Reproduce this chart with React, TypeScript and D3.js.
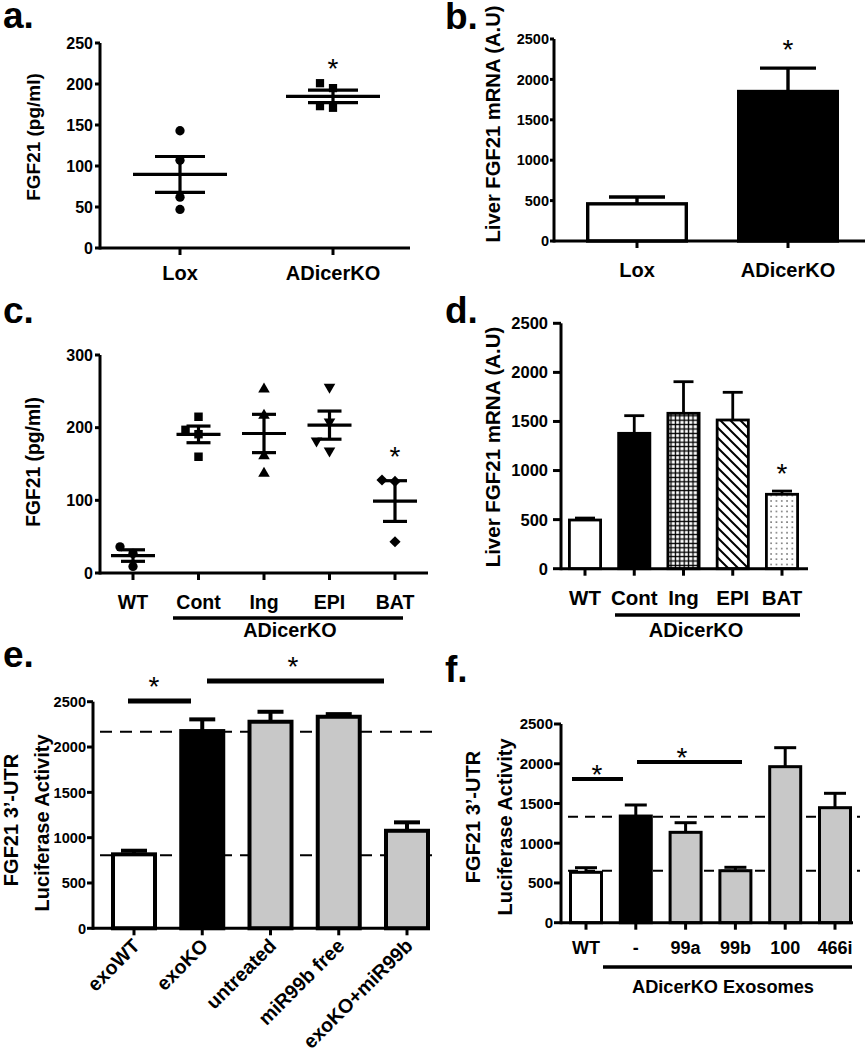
import React from "react";
import * as d3 from "d3";

const FONT = "'Liberation Sans', Arial, Helvetica, sans-serif";

// ---------- Panel a: serum FGF21 (scatter) ----------
const aCategories = ["Lox", "ADicerKO"];
const aLox = [143, 107, 62, 47];
const aADicerKO = [201, 195, 171, 173];
const aTicks = [0, 50, 100, 150, 200, 250];

// ---------- Panel b: liver FGF21 mRNA (bars) ----------
const bCategories = ["Lox", "ADicerKO"];
const bMeans = [460, 1850];
const bSEM = [85, 290];
const bTicks = [0, 500, 1000, 1500, 2000, 2500];

// ---------- Panel c: serum FGF21 (scatter) ----------
const cCategories = ["WT", "Cont", "Ing", "EPI", "BAT"];
const cWT = [36, 27, 9];
const cCont = [215, 197, 191, 160];
const cIng = [253, 217, 161, 137];
const cEPI = [256, 208, 168, 182];
const cBAT = [128, 126, 43];
const cTicks = [0, 100, 200, 300];

// ---------- Panel d: liver FGF21 mRNA (bars) ----------
const dCategories = ["WT", "Cont", "Ing", "EPI", "BAT"];
const dMeans = [496, 1379, 1583, 1515, 758];
const dSEM = [20, 180, 322, 282, 33];
const dTicks = [0, 500, 1000, 1500, 2000, 2500];

// ---------- Panel e: luciferase ----------
const eCategories = ["exoWT", "exoKO", "untreated", "miR99b free", "exoKO+miR99b"];
const eMeans = [816, 2176, 2279, 2334, 1076];
const eSEM = [40, 129, 110, 29, 93];
const eReference = [2168, 807];
const eTicks = [0, 500, 1000, 1500, 2000, 2500];

// ---------- Panel f: luciferase ----------
const fCategories = ["WT", "-", "99a", "99b", "100", "466i"];
const fMeans = [634, 1342, 1137, 654, 1963, 1447];
const fSEM = [58, 139, 121, 43, 239, 181];
const fReference = [1334, 654];
const fTicks = [0, 500, 1000, 1500, 2000, 2500];

type Scale = d3.ScaleLinear<number, number>;

function dodge(values: number[], y: Scale, step: number, minDist: number) {
  const order = values.map((_, i) => i).sort((a, b) => values[a] - values[b]);
  const placed: { dx: number; py: number }[] = [];
  const out: number[] = new Array(values.length).fill(0);
  for (const i of order) {
    const py = y(values[i]);
    const cands = [0, -step, step, -2 * step, 2 * step];
    for (const dx of cands) {
      if (placed.every((p) => Math.hypot(p.dx - dx, p.py - py) >= minDist)) {
        out[i] = dx;
        placed.push({ dx, py });
        break;
      }
    }
  }
  return out;
}

function YAxis({ x, scale, ticks, tickLen, fontSize, gap }: any) {
  const [r0, r1] = scale.range();
  return (
    <g>
      <line x1={x} x2={x} y1={r0 + 1.5} y2={r1} stroke="#000" strokeWidth={3} />
      {ticks.map((t: number) => (
        <g key={t}>
          <line x1={x - tickLen} x2={x} y1={scale(t)} y2={scale(t)} stroke="#000" strokeWidth={3} />
          <text
            x={x - tickLen - gap}
            y={scale(t)}
            dy="0.36em"
            textAnchor="end"
            fontSize={fontSize}
            fontWeight="bold"
          >
            {t}
          </text>
        </g>
      ))}
    </g>
  );
}

function XAxis({ x0, x1, y0, positions, tickLen }: any) {
  return (
    <g>
      <line x1={x0} x2={x1} y1={y0} y2={y0} stroke="#000" strokeWidth={3} />
      {positions.map((p: number, i: number) => (
        <line key={i} x1={p} x2={p} y1={y0} y2={y0 + tickLen} stroke="#000" strokeWidth={3} />
      ))}
    </g>
  );
}

function YLabel({ x, y, text, fontSize }: any) {
  return (
    <text
      transform={`translate(${x},${y}) rotate(-90)`}
      textAnchor="middle"
      dy="0.36em"
      fontSize={fontSize}
      fontWeight="bold"
    >
      {text}
    </text>
  );
}

function Star({ x, y, size = 28 }: any) {
  return (
    <text x={x} y={y + size * 0.58} textAnchor="middle" fontSize={size} fontWeight="normal">
      *
    </text>
  );
}

function PanelLetter({ x, y, text }: any) {
  return (
    <text x={x} y={y} fontSize={37} fontWeight="bold">
      {text}
    </text>
  );
}

function ScatterGroup({ values, cx, y, shape, rot, size, meanHalf, capHalf }: any) {
  const m = d3.mean(values) as number;
  const sem = (d3.deviation(values) as number) / Math.sqrt(values.length);
  const offs = dodge(values, y, 13, 11);
  const sym = d3.symbol().type(shape).size(size)() as string;
  return (
    <g>
      {values.map((v: number, i: number) => (
        <path
          key={i}
          d={sym}
          transform={`translate(${cx + offs[i]},${y(v)}) rotate(${rot})`}
          fill="#000"
        />
      ))}
      <line x1={cx - meanHalf} x2={cx + meanHalf} y1={y(m)} y2={y(m)} stroke="#000" strokeWidth={3.2} />
      <line x1={cx} x2={cx} y1={y(m + sem)} y2={y(m - sem)} stroke="#000" strokeWidth={3.2} />
      <line x1={cx - capHalf} x2={cx + capHalf} y1={y(m + sem)} y2={y(m + sem)} stroke="#000" strokeWidth={3.2} />
      <line x1={cx - capHalf} x2={cx + capHalf} y1={y(m - sem)} y2={y(m - sem)} stroke="#000" strokeWidth={3.2} />
    </g>
  );
}

function Bars({ cats, means, sem, xs, y, width, fills, sw, capHalf }: any) {
  return (
    <g>
      {cats.map((c: string, i: number) => {
        const cx = xs(c) as number;
        const top = y(means[i]);
        const bottom = y(0);
        const err = y(means[i] + sem[i]);
        return (
          <g key={c}>
            <line x1={cx} x2={cx} y1={top} y2={err} stroke="#000" strokeWidth={sw} />
            <line x1={cx - capHalf} x2={cx + capHalf} y1={err} y2={err} stroke="#000" strokeWidth={sw} />
            <rect
              x={cx - width / 2 + sw / 2}
              y={top}
              width={width - sw}
              height={bottom - top}
              fill={fills[i]}
              stroke="#000"
              strokeWidth={sw}
            />
          </g>
        );
      })}
    </g>
  );
}

export default function App() {
  // ---- panel a
  const ay = d3.scaleLinear().domain([0, 250]).range([248, 43]);
  const ax = d3.scalePoint<string>().domain(aCategories).range([180, 333]);
  // ---- panel b
  const by = d3.scaleLinear().domain([0, 2500]).range([241, 39]);
  const bx = d3.scalePoint<string>().domain(bCategories).range([637, 788]);
  // ---- panel c
  const cy = d3.scaleLinear().domain([0, 300]).range([573, 355]);
  const cx = d3.scalePoint<string>().domain(cCategories).range([133, 395]);
  // ---- panel d
  const dy = d3.scaleLinear().domain([0, 2500]).range([568.7, 323.3]);
  const dx = d3.scalePoint<string>().domain(dCategories).range([585, 782]);
  // ---- panel e
  const ey = d3.scaleLinear().domain([0, 2500]).range([928.3, 701.7]);
  const ex = d3.scalePoint<string>().domain(eCategories).range([134, 407]);
  // ---- panel f
  const fy = d3.scaleLinear().domain([0, 2500]).range([922.7, 724]);
  const fx = d3.scalePoint<string>().domain(fCategories).range([586, 835]);

  const cGroups = [
    { v: cWT, shape: d3.symbolCircle, rot: 0, size: 68 },
    { v: cCont, shape: d3.symbolSquare, rot: 0, size: 72 },
    { v: cIng, shape: d3.symbolTriangle, rot: 0, size: 58 },
    { v: cEPI, shape: d3.symbolTriangle, rot: 180, size: 58 },
    { v: cBAT, shape: d3.symbolSquare, rot: 45, size: 62 },
  ];

  return (
    <svg
      width={865}
      height={1050}
      style={{ position: "absolute", left: 0, top: 0, background: "#fff" }}
      fontFamily={FONT}
    >
      <defs>
        <pattern id="gridPat" width={4.4} height={4.4} patternUnits="userSpaceOnUse">
          <rect width={4.4} height={4.4} fill="#fff" />
          <path d="M0 2.2H4.4M2.2 0V4.4" stroke="#000" strokeWidth={1.3} />
        </pattern>
        <pattern id="diagPat" width={10} height={10} patternUnits="userSpaceOnUse">
          <rect width={10} height={10} fill="#fff" />
          <path d="M-2.5 7.5L2.5 12.5M0 0L10 10M7.5 -2.5L12.5 2.5" stroke="#000" strokeWidth={2} />
        </pattern>
        <pattern id="dotPat" width={5.3} height={5.3} patternUnits="userSpaceOnUse">
          <rect width={5.3} height={5.3} fill="#fff" />
          <circle cx={2.65} cy={2.65} r={0.75} fill="#222" />
        </pattern>
      </defs>
      <rect width={865} height={1050} fill="#fff" />

      {/* ================= Panel a ================= */}
      <PanelLetter x={3} y={28} text="a." />
      <YLabel x={33} y={137} text="FGF21 (pg/ml)" fontSize={19} />
      <XAxis x0={100} x1={410} y0={248} positions={aCategories.map((c) => ax(c))} tickLen={7} />
      <YAxis x={100} scale={ay} ticks={aTicks} tickLen={5} fontSize={16} gap={2} />
      {aCategories.map((c) => (
        <text key={c} x={ax(c)} y={273} dy="0.36em" textAnchor="middle" fontSize={20} fontWeight="bold">
          {c}
        </text>
      ))}
      <ScatterGroup values={aLox} cx={ax("Lox")} y={ay} shape={d3.symbolCircle} rot={0} size={68} meanHalf={47} capHalf={25} />
      <ScatterGroup values={aADicerKO} cx={ax("ADicerKO")} y={ay} shape={d3.symbolSquare} rot={0} size={68} meanHalf={47} capHalf={25} />
      <Star x={ax("ADicerKO")} y={62} />

      {/* ================= Panel b ================= */}
      <PanelLetter x={445} y={29} text="b." />
      <YLabel x={493} y={124} text="Liver FGF21 mRNA (A.U)" fontSize={20.2} />
      <Bars cats={bCategories} means={bMeans} sem={bSEM} xs={bx} y={by} width={102} fills={["#fff", "#000"]} sw={3.4} capHalf={28} />
      <XAxis x0={554} x1={865} y0={241} positions={bCategories.map((c) => bx(c))} tickLen={7} />
      <YAxis x={554} scale={by} ticks={bTicks} tickLen={4} fontSize={14.5} gap={1} />
      {bCategories.map((c) => (
        <text key={c} x={bx(c)} y={270} dy="0.36em" textAnchor="middle" fontSize={20} fontWeight="bold">
          {c}
        </text>
      ))}
      <Star x={bx("ADicerKO")} y={43} />

      {/* ================= Panel c ================= */}
      <PanelLetter x={3} y={323} text="c." />
      <YLabel x={33} y={462} text="FGF21 (pg/ml)" fontSize={19.3} />
      <XAxis x0={100} x1={428} y0={573} positions={cCategories.map((c) => cx(c))} tickLen={7} />
      <YAxis x={100} scale={cy} ticks={cTicks} tickLen={5} fontSize={16} gap={2} />
      {cCategories.map((c) => (
        <text key={c} x={cx(c)} y={602} dy="0.36em" textAnchor="middle" fontSize={19.5} fontWeight="bold">
          {c}
        </text>
      ))}
      {cGroups.map((g, i) => (
        <ScatterGroup
          key={i}
          values={g.v}
          cx={cx(cCategories[i])}
          y={cy}
          shape={g.shape}
          rot={g.rot}
          size={g.size}
          meanHalf={22}
          capHalf={12}
        />
      ))}
      <Star x={cx("BAT")} y={450} />
      <line x1={173} x2={403} y1={618} y2={618} stroke="#000" strokeWidth={3.4} />
      <text x={290} y={630} dy="0.36em" textAnchor="middle" fontSize={19.8} fontWeight="bold">
        ADicerKO
      </text>

      {/* ================= Panel d ================= */}
      <PanelLetter x={445} y={323} text="d." />
      <YLabel x={493} y={447} text="Liver FGF21 mRNA (A.U)" fontSize={20.5} />
      <Bars
        cats={dCategories}
        means={dMeans}
        sem={dSEM}
        xs={dx}
        y={dy}
        width={34}
        fills={["#fff", "#000", "url(#gridPat)", "url(#diagPat)", "url(#dotPat)"]}
        sw={2.8}
        capHalf={10}
      />
      <XAxis x0={561} x1={808} y0={568.7} positions={dCategories.map((c) => dx(c))} tickLen={7} />
      <YAxis x={561} scale={dy} ticks={dTicks} tickLen={8} fontSize={16.5} gap={5} />
      {dCategories.map((c) => (
        <text key={c} x={dx(c)} y={598} dy="0.36em" textAnchor="middle" fontSize={20.5} fontWeight="bold">
          {c}
        </text>
      ))}
      <Star x={dx("BAT")} y={467} />
      <line x1={615} x2={800} y1={615} y2={615} stroke="#000" strokeWidth={3.4} />
      <text x={696} y={630} dy="0.36em" textAnchor="middle" fontSize={20} fontWeight="bold">
        ADicerKO
      </text>

      {/* ================= Panel e ================= */}
      <PanelLetter x={3} y={667} text="e." />
      <text transform="translate(11,820) rotate(-90)" textAnchor="middle" dy="0.36em" fontSize={20} fontWeight="bold">
        FGF21 3’-UTR
      </text>
      <text transform="translate(42,823) rotate(-90)" textAnchor="middle" dy="0.36em" fontSize={20} fontWeight="bold">
        Luciferase Activity
      </text>
      {eReference.map((r, i) => (
        <line key={i} x1={100} x2={432} y1={ey(r)} y2={ey(r)} stroke="#000" strokeWidth={2} strokeDasharray="12 8" />
      ))}
      <Bars
        cats={eCategories}
        means={eMeans}
        sem={eSEM}
        xs={ex}
        y={ey}
        width={46}
        fills={["#fff", "#000", "#c8c8c8", "#c8c8c8", "#c8c8c8"]}
        sw={4}
        capHalf={13}
      />
      <XAxis x0={93} x1={430} y0={928.3} positions={eCategories.map((c) => ex(c))} tickLen={7} />
      <YAxis x={93} scale={ey} ticks={eTicks} tickLen={6} fontSize={14.6} gap={1} />
      {eCategories.map((c) => (
        <text
          key={c}
          transform={`translate(${(ex(c) as number) + 7},947) rotate(-45)`}
          textAnchor="end"
          fontSize={19.6}
          fontWeight="bold"
        >
          {c}
        </text>
      ))}
      <line x1={128} x2={191} y1={701} y2={701} stroke="#000" strokeWidth={5} />
      <Star x={154} y={680} />
      <line x1={207} x2={384} y1={681} y2={681} stroke="#000" strokeWidth={5} />
      <Star x={293} y={660} />

      {/* ================= Panel f ================= */}
      <PanelLetter x={445} y={682} text="f." />
      <text transform="translate(473,817) rotate(-90)" textAnchor="middle" dy="0.36em" fontSize={20} fontWeight="bold">
        FGF21 3’-UTR
      </text>
      <text transform="translate(505,827) rotate(-90)" textAnchor="middle" dy="0.36em" fontSize={20} fontWeight="bold">
        Luciferase Activity
      </text>
      {fReference.map((r, i) => (
        <line key={i} x1={568} x2={860} y1={fy(r)} y2={fy(r)} stroke="#000" strokeWidth={2} strokeDasharray="10 7" />
      ))}
      <Bars
        cats={fCategories}
        means={fMeans}
        sem={fSEM}
        xs={fx}
        y={fy}
        width={34}
        fills={["#fff", "#000", "#c8c8c8", "#c8c8c8", "#c8c8c8", "#c8c8c8"]}
        sw={3}
        capHalf={11}
      />
      <XAxis x0={561} x1={853} y0={922.7} positions={fCategories.map((c) => fx(c))} tickLen={7} />
      <YAxis x={561} scale={fy} ticks={fTicks} tickLen={7} fontSize={15} gap={1} />
      {fCategories.map((c) => (
        <text key={c} x={fx(c)} y={948} dy="0.36em" textAnchor="middle" fontSize={18} fontWeight="bold">
          {c}
        </text>
      ))}
      <line x1={572} x2={623} y1={779} y2={779} stroke="#000" strokeWidth={4.2} />
      <Star x={597} y={768} />
      <line x1={637} x2={742} y1={762} y2={762} stroke="#000" strokeWidth={4.2} />
      <Star x={682} y={751} />
      <line x1={603} x2={852} y1={967} y2={967} stroke="#000" strokeWidth={3.4} />
      <text x={723} y={986} dy="0.36em" textAnchor="middle" fontSize={18.2} fontWeight="bold">
        ADicerKO Exosomes
      </text>
    </svg>
  );
}
